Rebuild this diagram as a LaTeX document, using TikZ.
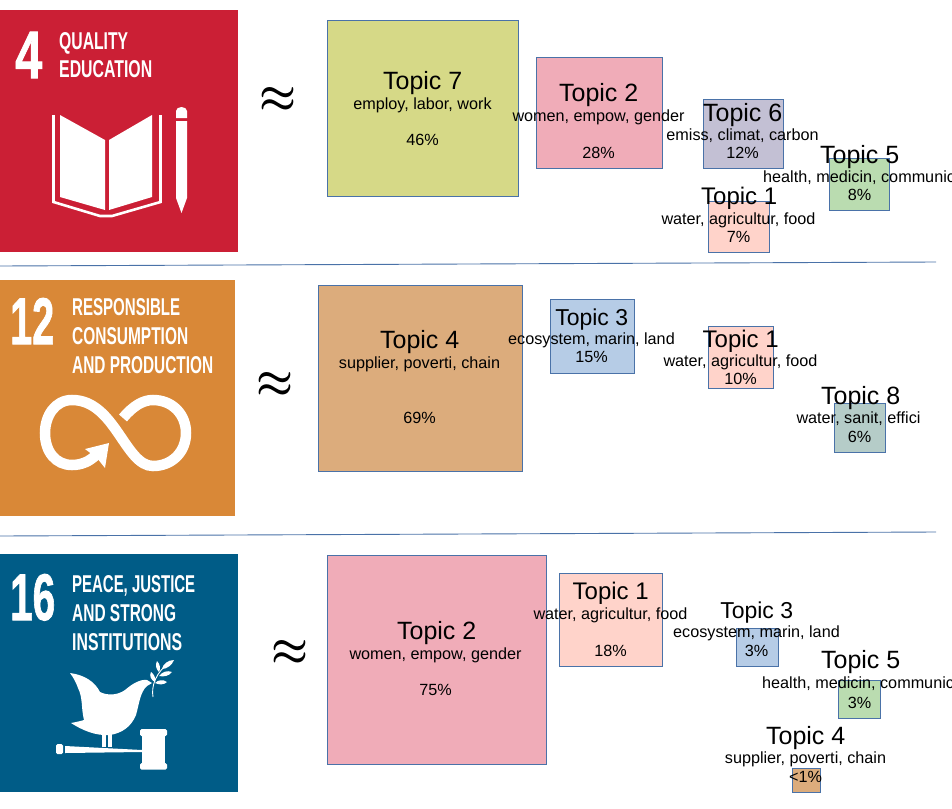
\documentclass[tikz,border=0pt]{standalone}
\usepackage{fontspec}
\setmainfont{Liberation Sans}
\newfontfamily\sdgfont{Liberation Sans Bold}
\newfontfamily\sdgheavy[FakeBold=1.5]{Liberation Sans Bold}
\definecolor{sdgred}{HTML}{CB1F35}
\definecolor{sdgorange}{HTML}{D98837}
\definecolor{sdgblue}{HTML}{005C87}
\definecolor{edgeblue}{HTML}{4A72A8}
\definecolor{tseven}{HTML}{D6D987}
\definecolor{ttwo}{HTML}{F0ACB8}
\definecolor{tsix}{HTML}{C3C0D4}
\definecolor{tfive}{HTML}{BADCB0}
\definecolor{tone}{HTML}{FFD3CA}
\definecolor{tfour}{HTML}{DCAC7C}
\definecolor{tthree}{HTML}{B6CCE6}
\definecolor{teight}{HTML}{B5CCC8}
\tikzset{
  topicbox/.style={draw=edgeblue,line width=0.9pt,inner sep=0pt},
  lbltext/.style={inner sep=0pt,anchor=base,text=black},
  lblwest/.style={inner sep=0pt,anchor=base west,text=black},
  logotext/.style={inner sep=0pt,anchor=base west,text=white},
  logobg/.style={inner sep=0pt,anchor=center},
  rule/.style={draw=edgeblue,line width=0.9pt},
  iconfill/.style={fill=white,draw=none},
  iconline/.style={draw=white,fill=none}
}
\newcommand\tbox[6]{\node[topicbox,fill=#6,minimum width={(#4-#2)*1pt},minimum height={(#5-#3)*1pt}] (#1) at ({(#2+#4)/2},{(#3+#5)/2+0.4}) {};}
\newcommand\ttl[4]{\node[lbltext,font=\fontsize{#3}{#3}\selectfont] at (#1+0.7,#2+8.6) {#4};}
\newcommand\sub[3]{\node[lbltext,font=\fontsize{16.2}{17}\selectfont] at (#1+0.5,#2+5.6) {#3};}
\newcommand\logotxt[5]{\node[logotext] at (#1,#2) {\resizebox{#3pt}{#4pt}{\sdgfont #5}};}
\newcommand\logonum[5]{\node[logotext] at (#1,#2) {\resizebox{#3pt}{#4pt}{\sdgheavy #5}};}
\newcommand\apx[2]{\node[inner sep=0pt] at (#1,#2) {\resizebox{37pt}{24pt}{\boldmath$\approx$}};}
\begin{document}
\begin{tikzpicture}[x=1pt,y=-1pt]
\useasboundingbox (0,0) rectangle (952,808);
% logo backgrounds
\node[logobg,fill=sdgred,minimum width=238pt,minimum height=242pt] (logoa) at (119,131) {};
\node[logobg,fill=sdgorange,minimum width=235pt,minimum height=236pt] (logob) at (117.5,398) {};
\node[logobg,fill=sdgblue,minimum width=238pt,minimum height=238pt] (logoc) at (119,673) {};
% logo texts
\logonum{15}{78}{27}{46}{4}
\logotxt{59}{49}{69}{17}{QUALITY}
\logotxt{59}{77.5}{93}{17}{EDUCATION}
\logonum{10}{344}{44}{46}{12}
\logotxt{72}{315}{108}{17}{RESPONSIBLE}
\logotxt{72}{344}{116}{17}{CONSUMPTION}
\logotxt{72}{373}{141}{17}{AND PRODUCTION}
\logonum{10}{620}{45}{46}{16}
\logotxt{72}{592}{123}{17}{PEACE, JUSTICE}
\logotxt{72}{621}{104}{17}{AND STRONG}
\logotxt{72}{650}{110}{17}{INSTITUTIONS}
% book
\fill[iconfill] (60,115) -- (105,140) -- (105,210) -- (60,197) -- cycle;
\fill[iconfill] (109,140) -- (152,115) -- (152,197) -- (109,210) -- cycle;
\draw[iconline,line width=2.6pt] (53.5,115) -- (53.5,202) -- (100,216) -- (112,216) -- (160.5,202) -- (160.5,115);
% pencil
\fill[iconfill] (176,111) arc[start angle=180,end angle=360,x radius=5.5,y radius=4] -- (187,118) -- (176,118) -- cycle;
\fill[iconfill] (176,121) -- (187,121) -- (187,198) -- (181.5,213) -- (176,198) -- cycle;
% infinity
\draw[iconline,line width=10.5pt] (123,418) .. controls (133,406) and (143,400) .. (153,400) .. controls (172,400) and (186,414) .. (186,433) .. controls (186,452) and (172,466) .. (153,466) .. controls (125,466) and (115,400) .. (72,400) .. controls (55,400) and (45,416) .. (45,433) .. controls (45,452) and (56,465) .. (72,465) .. controls (82,465) and (90,461) .. (96,455);
\fill[iconfill] (85,449) -- (109,443) -- (105,468) -- (97,458) -- cycle;
% dove
\fill[iconfill] (70,673) .. controls (85,675) and (95,682) .. (100,692) .. controls (108,696) and (118,695) .. (125,690) .. controls (132,684) and (140,679) .. (147,680) -- (152,683) -- (147,686) .. controls (140,692) and (139,705) .. (136,715) .. controls (131,727) and (122,733) .. (110,735) .. controls (95,736) and (82,730) .. (71,723) .. controls (76,722) and (81,721) .. (84,720) .. controls (81,708) and (83,698) .. (78,688) .. controls (76,682) and (73,677) .. (70,673) -- cycle;
\fill[iconfill] (102,734) rectangle (106,747);
\fill[iconfill] (108,734) rectangle (112,747);
% branch
\draw[iconline,line width=0.9pt] (153,697) .. controls (151,686) and (156,672) .. (170,662);
\fill[iconfill] (151,672) .. controls (154,674) and (156,678) .. (155,682) .. controls (151,680) and (149,676) .. (151,672) -- cycle;
\fill[iconfill] (157,661) .. controls (160,664) and (161,669) .. (159,672) .. controls (156,669) and (155,665) .. (157,661) -- cycle;
\fill[iconfill] (174,660) .. controls (172,665) and (167,669) .. (162,669) .. controls (163,664) and (168,660) .. (174,660) -- cycle;
\fill[iconfill] (172,672) .. controls (169,676) and (164,677) .. (159,676) .. controls (162,672) and (167,670) .. (172,672) -- cycle;
\fill[iconfill] (167,682) .. controls (164,685) and (159,685) .. (155,683) .. controls (158,680) and (163,679) .. (167,682) -- cycle;
% gavel
\fill[iconfill,rounded corners=1.5pt] (56,744) rectangle (63,754);
\fill[iconfill] (65,746) -- (142,750) -- (142,752) -- (65,753) -- cycle;
\fill[iconfill] (142,733) rectangle (165,763);
\fill[iconfill,rounded corners=1.5pt] (140,729) rectangle (167,736);
\fill[iconfill,rounded corners=1.5pt] (140,763) rectangle (167,769.5);
% approx
\apx{278}{100}
\apx{275}{385}
\apx{290}{653}
% separators
\coordinate (ruleaw) at (0,266);
\coordinate (ruleae) at (936,262);
\coordinate (rulebw) at (0,536);
\coordinate (rulebe) at (936,532);
\draw[rule] (ruleaw) -- (ruleae);
\draw[rule] (rulebw) -- (rulebe);
% row 1
\tbox{aseven}{327}{20}{518}{196}{tseven}
\ttl{422}{81}{25}{Topic 7}
\sub{422}{104}{employ, labor, work}
\sub{422}{140}{46\%}
\tbox{atwo}{536}{57}{662}{168}{ttwo}
\ttl{598}{93}{25}{Topic 2}
\sub{598}{116}{women, empow, gender}
\sub{598}{153}{28\%}
\tbox{asix}{703}{99}{783}{168}{tsix}
\ttl{742}{113}{25}{Topic 6}
\sub{742}{135}{emiss, climat, carbon}
\sub{742}{153}{12\%}
\tbox{afive}{829}{158}{889}{210}{tfive}
\ttl{859}{155}{25}{Topic 5}
\node[lblwest,font=\fontsize{16.2}{17}\selectfont] at (763,182.6) {health, medicin, communic};
\sub{859}{195}{8\%}
\tbox{aone}{708}{201}{769}{252}{tone}
\ttl{738.5}{196}{24}{Topic 1}
\sub{738}{219}{water, agricultur, food}
\sub{738}{237}{7\%}
% row 2
\tbox{bfour}{318}{285}{522}{471}{tfour}
\ttl{419}{340}{25}{Topic 4}
\sub{419}{363}{supplier, poverti, chain}
\sub{419}{418}{69\%}
\tbox{bthree}{550}{299}{634}{373}{tthree}
\ttl{591}{317}{23}{Topic 3}
\sub{591}{339}{ecosystem, marin, land}
\sub{591}{357}{15\%}
\tbox{bone}{708}{326}{773}{388}{tone}
\ttl{740}{339}{24}{Topic 1}
\sub{740}{361}{water, agricultur, food}
\sub{740}{379}{10\%}
\tbox{beight}{834}{403}{885}{452}{teight}
\ttl{860}{396}{25}{Topic 8}
\sub{858}{418}{water, sanit, effici}
\sub{859}{437}{6\%}
% row 3
\tbox{ctwo}{327}{555}{546}{764}{ttwo}
\ttl{436}{631}{25}{Topic 2}
\sub{435}{654}{women, empow, gender}
\sub{435}{690}{75\%}
\tbox{cone}{559}{573}{662}{666}{tone}
\ttl{610}{591}{24}{Topic 1}
\sub{610}{614}{water, agricultur, food}
\sub{610}{651}{18\%}
\tbox{cthree}{736}{628}{778}{666}{tthree}
\ttl{756}{610}{23}{Topic 3}
\sub{756}{632}{ecosystem, marin, land}
\sub{756}{651}{3\%}
\tbox{cfive}{838}{680}{880}{718}{tfive}
\ttl{860}{660}{25}{Topic 5}
\node[lblwest,font=\fontsize{16.2}{17}\selectfont] at (762,688.6) {health, medicin, communic};
\sub{859}{703}{3\%}
\tbox{cfour}{792}{768}{820}{792}{tfour}
\ttl{805}{736}{25}{Topic 4}
\sub{805}{758}{supplier, poverti, chain}
\sub{805}{777}{<1\%}
\end{tikzpicture}
\end{document}
